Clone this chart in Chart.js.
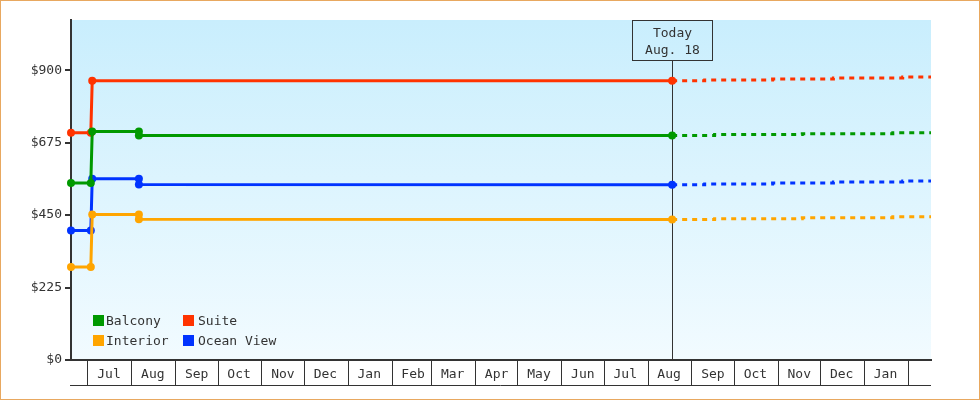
<!DOCTYPE html>
<html>
<head>
<meta charset="utf-8">
<title>Cabin prices</title>
<script src="https://cdn.jsdelivr.net/npm/chart.js@4/dist/chart.umd.min.js"></script>
<style>
    html, body { margin: 0; padding: 0; background: #fff; }
    canvas { display: block; }
</style>
</head>
<body>
<canvas id="price-chart" width="980" height="400"></canvas>
<script>
// Cabin categories and their colours
const categories = ['Balcony', 'Suite', 'Interior', 'Ocean View'];
const categoryColors = ['#009900', '#ff3300', '#ffa500', '#0033ff'];

// Price history (solid lines, with markers)
const balconyDates = ['2022-06-19', '2022-07-03', '2022-07-04', '2022-08-06', '2022-08-06', '2023-08-18'];
const balconyPrices = [550, 550, 710, 710, 697, 697];
const suiteDates = ['2022-06-19', '2022-07-03', '2022-07-04', '2023-08-18'];
const suitePrices = [706, 706, 867, 867];
const interiorDates = ['2022-06-19', '2022-07-03', '2022-07-04', '2022-08-06', '2022-08-06', '2023-08-18'];
const interiorPrices = [289, 289, 452, 452, 437, 436];
const oceanViewDates = ['2022-06-19', '2022-07-03', '2022-07-04', '2022-08-06', '2022-08-06', '2023-08-18'];
const oceanViewPrices = [402, 402, 563, 563, 545, 544];

// Projected prices (dotted lines)
const forecastDatesA = ['2023-08-18', '2023-09-10', '2023-10-28', '2023-12-10', '2024-01-28', '2024-02-17'];
const forecastDatesB = ['2023-08-18', '2023-09-17', '2023-11-18', '2024-01-21', '2024-02-17'];
const balconyForecast = [697, 700, 703, 706, 706];
const suiteForecast = [867, 870, 873, 876, 879, 879];
const interiorForecast = [436, 439, 442, 445, 445];
const oceanViewForecast = [544, 547, 550, 553, 556, 556];

// Axes
const axisStart = '2022-06-19';
const axisEnd = '2024-02-17';
const today = '2023-08-18';
const todayLabel = ['Today', 'Aug. 18'];
const monthStarts = [
    '2022-07-01', '2022-08-01', '2022-09-01', '2022-10-01', '2022-11-01', '2022-12-01',
    '2023-01-01', '2023-02-01', '2023-03-01', '2023-04-01', '2023-05-01', '2023-06-01',
    '2023-07-01', '2023-08-01', '2023-09-01', '2023-10-01', '2023-11-01', '2023-12-01',
    '2024-01-01', '2024-02-01'
];
const monthLabels = [
    'Jul', 'Aug', 'Sep', 'Oct', 'Nov', 'Dec', 'Jan', 'Feb', 'Mar', 'Apr', 'May', 'Jun',
    'Jul', 'Aug', 'Sep', 'Oct', 'Nov', 'Dec', 'Jan', ''
];
const priceTicks = [0, 225, 450, 675, 900];
const priceMax = 1056;

const FONT = { family: '"DejaVu Sans Mono", "Liberation Mono", monospace', size: 13 };
const INK = '#333';

// days since 1 Jul 2022
const origin = Date.parse('2022-07-01');
const dayOf = s => (Date.parse(s) - origin) / 86400000;
const points = (dates, values) => dates.map((d, i) => ({ x: dayOf(d), y: values[i] }));

function historySet(idx, dates, values) {
    return {
        label: categories[idx],
        data: points(dates, values),
        borderColor: categoryColors[idx],
        backgroundColor: categoryColors[idx],
        borderWidth: 3,
        pointRadius: 4,
        pointBorderWidth: 0,
        clip: false
    };
}

function forecastSet(idx, dates, values) {
    return {
        label: categories[idx] + ' forecast',
        data: points(dates, values),
        borderColor: categoryColors[idx],
        borderWidth: 3,
        borderDash: [5, 5],
        stepped: 'before',
        pointRadius: 0,
        clip: false
    };
}

// Fill the plot area and frame the canvas
const chartBackground = {
    id: 'chartBackground',
    beforeDraw(chart) {
        const { ctx, chartArea: a, width, height } = chart;
        ctx.save();
        ctx.fillStyle = '#fff';
        ctx.fillRect(0, 0, width, height);
        const g = ctx.createLinearGradient(0, a.top, 0, a.bottom);
        g.addColorStop(0, '#c9eefd');
        g.addColorStop(1, '#f2fbff');
        ctx.fillStyle = g;
        ctx.fillRect(a.left, a.top, a.right - a.left, a.bottom - a.top);
        ctx.strokeStyle = '#e8a860';
        ctx.lineWidth = 1;
        ctx.strokeRect(0.5, 0.5, width - 1, height - 1);
        ctx.restore();
    },
    afterDraw(chart) {
        // closing line under the month labels
        const { ctx, chartArea: a } = chart;
        const y = chart.scales.x.top + 25;
        ctx.save();
        ctx.strokeStyle = INK;
        ctx.lineWidth = 1;
        ctx.beginPath();
        ctx.moveTo(a.left - 1, y + 0.5);
        ctx.lineTo(a.right, y + 0.5);
        ctx.stroke();
        ctx.restore();
    }
};

// Vertical "today" line with its label box
const todayMarker = {
    id: 'todayMarker',
    beforeDatasetsDraw(chart) {
        const { ctx, chartArea: a } = chart;
        const x = Math.round(chart.scales.x.getPixelForValue(dayOf(today))) + 0.5;
        ctx.save();
        ctx.strokeStyle = INK;
        ctx.lineWidth = 1;
        ctx.beginPath();
        ctx.moveTo(x, a.top + 40);
        ctx.lineTo(x, a.bottom);
        ctx.stroke();
        ctx.restore();
    },
    afterDatasetsDraw(chart) {
        const { ctx, chartArea: a } = chart;
        const x = Math.round(chart.scales.x.getPixelForValue(dayOf(today))) + 0.5;
        ctx.save();
        ctx.strokeStyle = INK;
        ctx.lineWidth = 1;
        ctx.strokeRect(x - 40, a.top + 0.5, 80, 40);
        ctx.fillStyle = INK;
        ctx.font = `${FONT.size}px ${FONT.family}`;
        ctx.textAlign = 'center';
        ctx.textBaseline = 'middle';
        ctx.fillText(todayLabel[0], x, a.top + 14);
        ctx.fillText(todayLabel[1], x, a.top + 31);
        ctx.restore();
    }
};

// Two-column legend in the lower left of the plot
const cornerLegend = {
    id: 'cornerLegend',
    afterDatasetsDraw(chart) {
        const { ctx, chartArea: a } = chart;
        ctx.save();
        ctx.font = `${FONT.size}px ${FONT.family}`;
        ctx.textBaseline = 'middle';
        ctx.textAlign = 'left';
        categories.forEach((name, i) => {
            const col = i % 2;
            const row = Math.floor(i / 2);
            const bx = a.left + 22 + col * 90;
            const by = a.bottom - 45 + row * 20;
            ctx.fillStyle = categoryColors[i];
            ctx.fillRect(bx, by, 11, 11);
            ctx.fillStyle = INK;
            ctx.fillText(name, bx + 13 + col * 2, by + 7);
        });
        ctx.restore();
    }
};

new Chart(document.getElementById('price-chart'), {
    type: 'line',
    data: {
        datasets: [
            historySet(0, balconyDates, balconyPrices),
            historySet(1, suiteDates, suitePrices),
            historySet(2, interiorDates, interiorPrices),
            historySet(3, oceanViewDates, oceanViewPrices),
            forecastSet(0, forecastDatesB, balconyForecast),
            forecastSet(1, forecastDatesA, suiteForecast),
            forecastSet(2, forecastDatesB, interiorForecast),
            forecastSet(3, forecastDatesA, oceanViewForecast)
        ]
    },
    options: {
        responsive: false,
        animation: false,
        events: [],
        layout: { padding: { top: 20, right: 49, left: 0, bottom: 0 } },
        plugins: {
            legend: { display: false },
            tooltip: { enabled: false }
        },
        scales: {
            x: {
                type: 'linear',
                min: dayOf(axisStart),
                max: dayOf(axisEnd),
                afterBuildTicks: s => { s.ticks = monthStarts.map(m => ({ value: dayOf(m) })); },
                afterFit: s => { s.height = 40; },
                border: { color: INK, width: 2 },
                grid: { drawOnChartArea: false, tickLength: 25, color: INK, lineWidth: 1 },
                ticks: {
                    autoSkip: false,
                    maxRotation: 0,
                    labelOffset: 21,
                    padding: -18,
                    color: INK,
                    font: FONT,
                    callback: (v, i) => monthLabels[i]
                }
            },
            y: {
                min: 0,
                max: priceMax,
                afterBuildTicks: s => { s.ticks = priceTicks.map(v => ({ value: v })); },
                afterFit: s => { s.width = 71; },
                border: { color: INK, width: 2 },
                grid: { drawOnChartArea: false, tickLength: 6, color: INK, lineWidth: 2 },
                ticks: {
                    padding: 3,
                    color: INK,
                    font: FONT,
                    callback: v => '$' + v
                }
            }
        }
    },
    plugins: [chartBackground, todayMarker, cornerLegend]
});
</script>
</body>
</html>
